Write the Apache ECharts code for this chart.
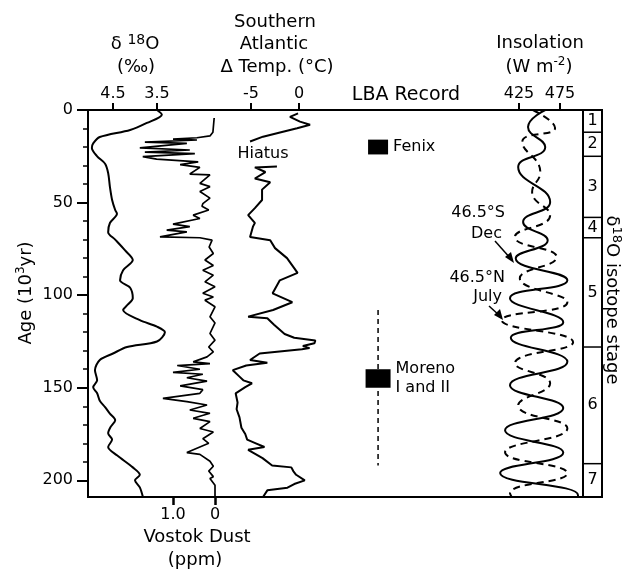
<!DOCTYPE html>
<html>
<head>
<meta charset="utf-8">
<script src="https://cdn.jsdelivr.net/npm/echarts@6/dist/echarts.min.js"></script>
<style>
  html, body { margin: 0; padding: 0; background: #fff; }
  #chart-div { width: 623px; height: 571px; }
</style>
</head>
<body>
<div id="chart-div"></div>
<script>
// ages in 10^3 yr
const ageMajorTicks = [0, 50, 100, 150, 200];
const ageMinorTicks = [10, 20, 30, 40, 60, 70, 80, 90, 110, 120, 130, 140, 160, 170, 180, 190];

// delta 18O (per mil)
const d18oAge = [0, 2.5, 7, 10.8, 14.6, 18, 20.5, 25, 29, 34, 41.5, 48.6, 54, 56, 61, 66, 70, 75.7, 81, 86.5, 92, 96, 101.6, 105, 108, 113.5, 117, 120, 125, 128, 131.5, 135, 140.5, 146, 149.7, 153, 157, 160.5, 164, 167.5, 171, 174.6, 178, 182, 186.5, 193, 197, 200, 203.8, 209];
const d18oValue = [3.5, 3.39, 3.73, 4.11, 4.8, 4.95, 4.98, 4.86, 4.68, 4.61, 4.57, 4.52, 4.45, 4.41, 4.57, 4.61, 4.45, 4.23, 4.05, 4.27, 4.34, 4.11, 4.05, 4.16, 4.27, 3.89, 3.5, 3.32, 3.5, 4.18, 4.5, 4.8, 4.91, 4.86, 4.95, 4.86, 4.8, 4.68, 4.57, 4.45, 4.55, 4.61, 4.52, 4.61, 4.41, 4.05, 3.89, 4.0, 3.89, 3.82];
const d18oTicks = [4.5, 3.5];

// Vostok dust (ppm)
const dustAge = [4.3, 12, 14, 15, 15.7, 16.2, 17.4, 18, 20.5, 21.6, 22.7, 23.6, 25.2, 26.5, 28, 29.5, 31, 34.6, 35, 39.6, 41.4, 44, 47.6, 50.6, 52, 54, 56.8, 58.6, 61.6, 63, 64.9, 65.8, 68.5, 69, 70.3, 74, 77.5, 81, 84, 86.5, 89.2, 92.8, 95.5, 99, 101, 102.7, 106.3, 111.7, 115, 120.7, 124.3, 128, 130.6, 133.3, 136, 137, 138, 140, 141.7, 142.7, 144.6, 146.4, 149, 151, 153, 155.7, 157.5, 159.3, 162, 163.8, 166.5, 168.3, 172, 173.9, 177.5, 180, 185, 186, 189.7, 192.4, 195, 198, 199, 202.7, 209];
const dustValue = [0.02, 0.05, 0.12, 0.43, 1.0, 0.43, 1.67, 0.67, 1.79, 0.6, 1.67, 0.48, 1.72, 1.39, 0.4, 0.83, 0.36, 0.6, 0.12, 0.36, 0.12, 0.36, 0.12, 0.29, 0.31, 0.15, 0.52, 0.36, 1.0, 0.6, 1.15, 0.67, 1.31, 0.36, 0.07, 0.14, 0.04, 0.24, 0.04, 0.29, 0.04, 0.24, 0.0, 0.29, 0.04, 0.24, 0.0, 0.12, 0.0, 0.12, 0.0, 0.15, 0.04, 0.19, 0.52, 0.12, 0.9, 0.36, 1.0, 0.29, 0.67, 0.19, 0.83, 0.29, 0.36, 1.24, 0.67, 0.19, 0.6, 0.12, 0.52, 0.12, 0.36, 0.04, 0.29, 0.15, 0.67, 0.36, 0.12, 0.04, 0.15, 0.04, 0.12, 0.0, 0.0];
const dustTicks = [1.0, 0];
const dustTickLabels = ['1.0', '0'];

// Southern Atlantic delta temp (deg C), null = hiatus
const tempAge = [1.8, 3.7, 6.3, 8, 9.9, 11.7, 14.4, 17, null, 30.5, 31, 33.5, 37, 39, 43, 48.6, 53, 56.8, 61, 63, 68.6, 70.3, 74.6, 80, 88, 92, 99, 103.8, 108, 111.6, 112.5, 116, 121, 123, 124.5, 126, 127.5, 128.6, 129.2, 131.5, 135, 136.5, 138, 140.5, 144, 146, 147.6, 149.7, 153, 158, 161.6, 166, 171.6, 175, 178, 180, 182, 183.5, 185, 188, 192, 193, 195, 197, 200, 202, 204, 205.4, 209];
const tempValue = [-0.1, -0.94, 0.1, 1.15, -0.2, -1.67, -3.75, -5.1, null, -2.3, -4.6, -3.5, -4.6, -3.0, -3.85, -3.85, -4.6, -5.3, -4.6, -4.8, -5.1, -3.0, -2.5, -1.25, -0.15, -2.0, -2.75, -0.7, -2.7, -5.3, -3.3, -2.6, -1.5, -0.5, 1.7, 1.6, 0.4, 1.1, 0.3, -4.1, -5.1, -3.3, -5.5, -6.9, -6.2, -5.8, -4.9, -5.6, -6.6, -6.4, -6.5, -6.2, -6.0, -5.6, -5.4, -4.5, -3.6, -5.3, -4.8, -3.8, -2.8, -0.8, -0.6, -0.3, 0.6, -0.5, -1.2, -3.3, -3.75];
const tempTicks = [-5, 0];

// insolation (W m-2)
const insolSouthAge = [0, 9.2, 20, 30.8, 49.7, 60.5, 70.3, 80, 92, 101.6, 114.6, 123, 136, 148.6, 161, 173, 185, 196, 208, 209];
const insolSouthValue = [457, 436, 457, 424, 463, 430, 460, 421, 484, 414, 479, 415, 484, 414, 479, 408, 479, 402, 497, 497];
const insolNorthAge = [0, 9.7, 17.3, 33.5, 44.3, 56.8, 68.6, 79.5, 90.8, 103.8, 113.5, 125.4, 136.8, 147.6, 159.5, 171.9, 184.9, 196.2, 207, 209];
const insolNorthValue = [442, 469, 429, 451, 441, 463, 420, 471, 426, 484, 404, 491, 420, 463, 424, 484, 408, 484, 414, 416];
const insolTicks = [425, 475];

// LBA record
const lbaNames = ['Fenix', 'Moreno\nI and II'];
const lbaFrom = [16, 140];
const lbaTo = [24, 150];
const lbaRangeFrom = [null, 108];
const lbaRangeTo = [null, 192];

// d18O isotope stages
const stageNames = ['1', '2', '3', '4', '5', '6', '7'];
const stageBounds = [0, 12, 25, 58, 69, 128, 191, 209];

const font = 'DejaVu Sans';
const lbaColumn = 0.586;

function pairs(xs, ages) {
    return ages.map((a, i) => (a === null ? ['-', '-'] : [xs[i], a]));
}

let myChart = echarts.init(document.getElementById('chart-div'), null, { renderer: 'canvas' });

function topAxis(min, max, ticks, inverse) {
    return {
        type: 'value', gridIndex: 0, position: 'top', min: min, max: max, inverse: inverse,
        axisLine: { show: false, onZero: false },
        splitLine: { show: false },
        axisTick: { show: true, customValues: ticks, length: 7, lineStyle: { color: '#000', width: 2 } },
        axisLabel: { customValues: ticks, color: '#000', fontSize: 16, fontFamily: font, margin: 8 }
    };
}

function textStyle(size) {
    return { fontSize: size, fontFamily: font, lineHeight: 22 };
}

const option = {
    animation: false,
    backgroundColor: '#fff',
    grid: [
        { left: 88, top: 110, width: 495, height: 387, show: true, borderColor: '#000', borderWidth: 2, backgroundColor: 'transparent' },
        { left: 583, top: 110, width: 19, height: 387, show: true, borderColor: '#000', borderWidth: 2, backgroundColor: 'transparent' }
    ],
    xAxis: [
        topAxis(-6.182, 5.068, d18oTicks, true),
        topAxis(-21.98, 29.58, tempTicks, false),
        {
            type: 'value', gridIndex: 0, position: 'bottom', min: -8.762, max: 3.024, inverse: true,
            axisLine: { show: false, onZero: false }, splitLine: { show: false },
            axisTick: { show: true, customValues: dustTicks, length: 8, lineStyle: { color: '#000', width: 2.5 } },
            axisLabel: {
                customValues: dustTicks, color: '#000', fontSize: 16, fontFamily: font, margin: 10,
                formatter: function (v) { return dustTickLabels[dustTicks.indexOf(v)]; }
            }
        },
        topAxis(-100.6, 503.05, insolTicks, false),
        { type: 'value', gridIndex: 0, min: 0, max: 1, show: false, axisLine: { onZero: false } },
        { type: 'value', gridIndex: 1, min: 0, max: 1, show: false, axisLine: { onZero: false } }
    ],
    yAxis: [
        {
            type: 'value', gridIndex: 0, position: 'left', min: 0, max: 209, inverse: true,
            axisLine: { show: false, onZero: false }, splitLine: { show: false },
            axisTick: { show: true, customValues: ageMajorTicks, length: 11, lineStyle: { color: '#000', width: 2 } },
            axisLabel: { customValues: ageMajorTicks, color: '#000', fontSize: 16, fontFamily: font, margin: 15 }
        },
        {
            type: 'value', gridIndex: 0, position: 'left', min: 0, max: 209, inverse: true,
            axisLine: { show: false, onZero: false }, splitLine: { show: false },
            axisTick: { show: true, customValues: ageMinorTicks, length: 5, lineStyle: { color: '#000', width: 1.5 } },
            axisLabel: { show: false }
        },
        { type: 'value', gridIndex: 1, min: 0, max: 209, inverse: true, show: false, axisLine: { onZero: false } }
    ],
    series: [
        {
            name: 'd18O', type: 'line', xAxisIndex: 0, yAxisIndex: 0, symbol: 'none', smooth: 0.3,
            lineStyle: { color: '#000', width: 2 }, data: pairs(d18oValue, d18oAge)
        },
        {
            name: 'dust', type: 'line', xAxisIndex: 2, yAxisIndex: 0, symbol: 'none',
            lineStyle: { color: '#000', width: 1.7 }, data: pairs(dustValue, dustAge)
        },
        {
            name: 'temp', type: 'line', xAxisIndex: 1, yAxisIndex: 0, symbol: 'none', connectNulls: false,
            lineStyle: { color: '#000', width: 2 }, data: pairs(tempValue, tempAge)
        },
        {
            name: '46.5S Dec', type: 'line', xAxisIndex: 3, yAxisIndex: 0, symbol: 'none', smooth: 0.5,
            lineStyle: { color: '#000', width: 2 }, data: pairs(insolSouthValue, insolSouthAge)
        },
        {
            name: '46.5N July', type: 'line', xAxisIndex: 3, yAxisIndex: 0, symbol: 'none', smooth: 0.5,
            lineStyle: { color: '#000', width: 2, type: [7, 5] }, data: pairs(insolNorthValue, insolNorthAge)
        },
        {
            name: 'LBA', type: 'custom', xAxisIndex: 4, yAxisIndex: 0,
            data: lbaNames.map((n, i) => [lbaColumn, lbaFrom[i], lbaTo[i], lbaRangeFrom[i], lbaRangeTo[i]]),
            renderItem: function (params, api) {
                const i = params.dataIndex;
                const w = i === 1 ? 25 : 20;
                const p0 = api.coord([api.value(0), api.value(1)]);
                const p1 = api.coord([api.value(0), api.value(2)]);
                const children = [];
                if (lbaRangeFrom[i] !== null) {
                    const r0 = api.coord([api.value(0), api.value(3)]);
                    const r1 = api.coord([api.value(0), api.value(4)]);
                    children.push({
                        type: 'line', shape: { x1: r0[0], y1: r0[1], x2: r1[0], y2: r1[1] },
                        style: { stroke: '#000', lineWidth: 1.5, lineDash: [5, 4] }
                    });
                }
                children.push({
                    type: 'rect', shape: { x: p0[0] - w / 2, y: p0[1], width: w, height: p1[1] - p0[1] },
                    style: { fill: '#000' }
                });
                children.push({
                    type: 'text', x: p0[0] + w / 2 + 5, y: (p0[1] + p1[1]) / 2,
                    style: { text: lbaNames[i], font: '16px "' + font + '"', fill: '#000', textAlign: 'left', textVerticalAlign: 'middle', lineHeight: 19 }
                });
                return { type: 'group', children: children };
            }
        },
        {
            // isotope stage column: numbers and boundaries
            name: 'stages', type: 'custom', xAxisIndex: 5, yAxisIndex: 2,
            data: stageNames.map((s, i) => [0.5, stageBounds[i], stageBounds[i + 1]]),
            renderItem: function (params, api) {
                const i = params.dataIndex;
                const a = api.coord([0, api.value(1)]);
                const b = api.coord([1, api.value(2)]);
                const children = [{
                    type: 'text', x: (a[0] + b[0]) / 2, y: (a[1] + b[1]) / 2,
                    style: { text: stageNames[i], font: '16px "' + font + '"', fill: '#000', textAlign: 'center', textVerticalAlign: 'middle' }
                }];
                if (i < stageNames.length - 1) {
                    children.push({
                        type: 'line', shape: { x1: a[0], y1: b[1], x2: b[0], y2: b[1] },
                        style: { stroke: '#000', lineWidth: 1.5 }
                    });
                }
                return { type: 'group', children: children };
            }
        }
    ],
    graphic: [
        { type: 'text', x: 135, y: 44, style: { text: '{n|δ }{s|18}{n|O}', rich: { n: textStyle(18), s: { fontSize: 14, fontFamily: font, lineHeight: 14, verticalAlign: 'top' } }, fill: '#000', textAlign: 'center', textVerticalAlign: 'middle' } },
        { type: 'text', x: 136, y: 67, style: { text: '(‰)', font: '18px "' + font + '"', fill: '#000', textAlign: 'center', textVerticalAlign: 'middle' } },
        { type: 'text', x: 275, y: 22, style: { text: 'Southern', font: '18px "' + font + '"', fill: '#000', textAlign: 'center', textVerticalAlign: 'middle' } },
        { type: 'text', x: 274, y: 44, style: { text: 'Atlantic', font: '18px "' + font + '"', fill: '#000', textAlign: 'center', textVerticalAlign: 'middle' } },
        { type: 'text', x: 277, y: 67, style: { text: 'Δ Temp. (°C)', font: '18px "' + font + '"', fill: '#000', textAlign: 'center', textVerticalAlign: 'middle' } },
        { type: 'text', x: 406, y: 95, style: { text: 'LBA Record', font: '19px "' + font + '"', fill: '#000', textAlign: 'center', textVerticalAlign: 'middle' } },
        { type: 'text', x: 540, y: 43, style: { text: 'Insolation', font: '18px "' + font + '"', fill: '#000', textAlign: 'center', textVerticalAlign: 'middle' } },
        { type: 'text', x: 539, y: 67, style: { text: '{n|(W m}{s|-2}{n|)}', rich: { n: textStyle(18), s: { fontSize: 12, fontFamily: font, lineHeight: 12, verticalAlign: 'top' } }, fill: '#000', textAlign: 'center', textVerticalAlign: 'middle' } },
        { type: 'text', x: 197, y: 537, style: { text: 'Vostok Dust', font: '18px "' + font + '"', fill: '#000', textAlign: 'center', textVerticalAlign: 'middle' } },
        { type: 'text', x: 195, y: 560, style: { text: '(ppm)', font: '18px "' + font + '"', fill: '#000', textAlign: 'center', textVerticalAlign: 'middle' } },
        { type: 'text', x: 263, y: 154, style: { text: 'Hiatus', font: '16px "' + font + '"', fill: '#000', textAlign: 'center', textVerticalAlign: 'middle' } },
        { type: 'text', x: 505, y: 213, style: { text: '46.5°S', font: '16px "' + font + '"', fill: '#000', textAlign: 'right', textVerticalAlign: 'middle' } },
        { type: 'text', x: 502, y: 234, style: { text: 'Dec', font: '16px "' + font + '"', fill: '#000', textAlign: 'right', textVerticalAlign: 'middle' } },
        { type: 'text', x: 505, y: 278, style: { text: '46.5°N', font: '16px "' + font + '"', fill: '#000', textAlign: 'right', textVerticalAlign: 'middle' } },
        { type: 'text', x: 502, y: 297, style: { text: 'July', font: '16px "' + font + '"', fill: '#000', textAlign: 'right', textVerticalAlign: 'middle' } },
        { type: 'text', x: 26, y: 293, rotation: Math.PI / 2, style: { text: '{n|Age (10}{s|3}{n|yr)}', rich: { n: textStyle(18), s: { fontSize: 12, fontFamily: font, lineHeight: 12, verticalAlign: 'top' } }, fill: '#000', textAlign: 'center', textVerticalAlign: 'middle' } },
        { type: 'text', x: 612, y: 300, rotation: -Math.PI / 2, style: { text: '{n|δ}{s|18}{n|O isotope stage}', rich: { n: textStyle(18), s: { fontSize: 13, fontFamily: font, lineHeight: 13, verticalAlign: 'top' } }, fill: '#000', textAlign: 'center', textVerticalAlign: 'middle' } },
        // arrows to the insolation curves
        { type: 'line', shape: { x1: 495, y1: 241, x2: 511, y2: 259 }, style: { stroke: '#000', lineWidth: 1.5 } },
        { type: 'polygon', shape: { points: [[514, 263], [505, 257], [511, 252]] }, style: { fill: '#000' } },
        { type: 'line', shape: { x1: 489, y1: 306, x2: 500, y2: 316 }, style: { stroke: '#000', lineWidth: 1.5 } },
        { type: 'polygon', shape: { points: [[503, 320], [494, 315], [500, 309]] }, style: { fill: '#000' } }
    ]
};

myChart.setOption(option);
</script>
</body>
</html>
